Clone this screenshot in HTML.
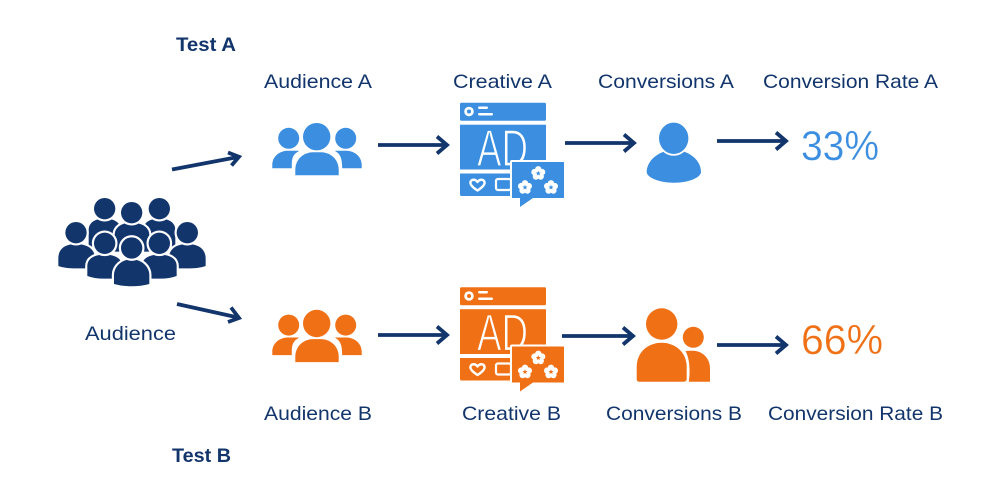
<!DOCTYPE html>
<html><head><meta charset="utf-8"><style>
html,body{margin:0;padding:0;background:#fff}
svg{display:block}
text{font-family:"Liberation Sans",sans-serif}
.l{font-size:19.5px;fill:#12356c}
.b{font-size:19.5px;font-weight:700;fill:#12356c}
.ar{fill:none;stroke:#12356c;stroke-width:3.8;stroke-linejoin:miter}
.ad{font-size:52px;stroke-width:1.3}
</style></head><body>
<svg width="1000" height="500" viewBox="0 0 1000 500" xmlns="http://www.w3.org/2000/svg">
<defs>
<g id="fl">
<circle cx="0" cy="-4" r="3.200" fill="#fff"/><circle cx="3.800" cy="-1.200" r="3.200" fill="#fff"/><circle cx="2.400" cy="3.200" r="3.200" fill="#fff"/><circle cx="-2.400" cy="3.200" r="3.200" fill="#fff"/><circle cx="-3.800" cy="-1.200" r="3.200" fill="#fff"/>
<circle r="2.500" fill="#fff"/>
</g>
<path id="star" d="M0 -2.600L.7 -.8L2.500 -.8L1.100 .4L1.600 2.200L0 1.200L-1.600 2.200L-1.100 .4L-2.500 -.8L-.7 -.8Z"/>
</defs>
<rect width="1000" height="500" fill="#fff"/>

<text class="b" x="176" y="51" textLength="60" lengthAdjust="spacingAndGlyphs">Test A</text>
<text class="b" x="172" y="462" textLength="59" lengthAdjust="spacingAndGlyphs">Test B</text>
<text class="l" x="264" y="88" textLength="108" lengthAdjust="spacingAndGlyphs">Audience A</text>
<text class="l" x="453" y="88" textLength="99" lengthAdjust="spacingAndGlyphs">Creative A</text>
<text class="l" x="598" y="88" textLength="136" lengthAdjust="spacingAndGlyphs">Conversions A</text>
<text class="l" x="763" y="88" textLength="175" lengthAdjust="spacingAndGlyphs">Conversion Rate A</text>
<text class="l" x="264" y="420" textLength="108" lengthAdjust="spacingAndGlyphs">Audience B</text>
<text class="l" x="462" y="420" textLength="99" lengthAdjust="spacingAndGlyphs">Creative B</text>
<text class="l" x="606" y="420" textLength="136" lengthAdjust="spacingAndGlyphs">Conversions B</text>
<text class="l" x="768" y="420" textLength="175" lengthAdjust="spacingAndGlyphs">Conversion Rate B</text>
<text class="l" x="85" y="340" textLength="91" lengthAdjust="spacingAndGlyphs">Audience</text>

<text x="801" y="160" font-size="42" fill="#3b8ee0" stroke="#fff" stroke-width=".3" textLength="78" lengthAdjust="spacingAndGlyphs">33%</text>
<text x="801" y="354" font-size="42" fill="#f07016" stroke="#fff" stroke-width=".3" textLength="82" lengthAdjust="spacingAndGlyphs">66%</text>

<!-- arrows -->
<path class="ar" d="M172 169.500L238 157M228 152.500L239 156.800L231.500 165.500"/>
<path class="ar" d="M177 304L238 317.500M231 307.500L239 318L228 322"/>
<path class="ar" d="M378 145H446M437 136.500L447 145L437 153.500"/>
<path class="ar" d="M565 143H633M624 134.500L634 143L624 151.500"/>
<path class="ar" d="M717 141H785M776 132.500L786 141L776 149.500"/>
<path class="ar" d="M378 335H446M437 326.500L447 335L437 343.500"/>
<path class="ar" d="M562 336H632M623 327.500L633 336L623 344.500"/>
<path class="ar" d="M717 345H785M776 336.500L786 345L776 353.500"/>

<!-- crowd -->
<g transform="translate(40 180) scale(.3333)" fill="#12356c" stroke="#fff" stroke-width="13" paint-order="stroke">
<path d="M146 200V150C146 128 165 116 194 116C223 116 242 128 242 150V200Z"/>
<path d="M310 200V150C310 128 329 116 358 116C387 116 406 128 406 150V200Z"/>
<circle cx="194" cy="86" r="32"/><circle cx="358" cy="86" r="32"/>
<path d="M224 215V165C224 142 245 128 275 128C305 128 328 142 328 165V215Z"/>
<circle cx="275" cy="98" r="32"/>
<path d="M55 258V235C55 207 75 192 108 192C141 192 165 207 165 235V265H120C95 266 72 264 55 258Z"/>
<path d="M387 265V235C387 207 409 192 442 192C475 192 497 207 497 235V258C480 264 457 266 432 265Z"/>
<circle cx="108" cy="158" r="32"/><circle cx="442" cy="158" r="32"/>
<path d="M142 288V258C142 236 163 224 194 224C225 224 246 236 246 258V296H190C172 296 156 293 142 288Z"/>
<path d="M306 296V258C306 236 327 224 358 224C389 224 410 236 410 258V288C396 293 380 296 362 296Z"/>
<circle cx="194" cy="190" r="32"/><circle cx="358" cy="190" r="32"/>
<path d="M222 312V285C222 260 245 238 275 238C305 238 328 260 328 285V312C295 321 255 321 222 312Z"/>
<circle cx="275" cy="204" r="32"/>
</g>

<!-- group A -->
<g fill="#3b8ee0">
<circle cx="316.700" cy="136.700" r="13.700"/>
<circle cx="288.700" cy="138.300" r="10.500"/><circle cx="345.700" cy="138.300" r="10.500"/>
<path d="M272.300 168.300V165C272.300 156 280 150.700 288 150.700H298C300 150.700 298 151.500 296 153C291 157 292 163 291.800 168.300Z"/>
<path d="M361.700 168.300V165C361.700 156 354 150.700 346 150.700H336C334 150.700 336 151.500 338 153C342 157 342 163 342.200 168.300Z"/>
<path d="M295.300 175.300V170C295.300 159 304 152.300 313 152.300H321C330 152.300 338.700 159 338.700 170V175.300Z"/>
</g>
<!-- group B -->
<g fill="#f07016" transform="translate(0 186.800)">
<circle cx="316.700" cy="136.700" r="13.700"/>
<circle cx="288.700" cy="138.300" r="10.500"/><circle cx="345.700" cy="138.300" r="10.500"/>
<path d="M272.300 168.300V165C272.300 156 280 150.700 288 150.700H298C300 150.700 298 151.500 296 153C291 157 292 163 291.800 168.300Z"/>
<path d="M361.700 168.300V165C361.700 156 354 150.700 346 150.700H336C334 150.700 336 151.500 338 153C342 157 342 163 342.200 168.300Z"/>
<path d="M295.300 175.300V170C295.300 159 304 152.300 313 152.300H321C330 152.300 338.700 159 338.700 170V175.300Z"/>
</g>

<!-- ad A -->
<g>
<rect x="460" y="102.700" width="86" height="18" rx="1.500" fill="#3b8ee0"/>
<circle cx="469" cy="111.500" r="4.800" fill="#fff"/><circle cx="469" cy="111.500" r="2" fill="#3b8ee0"/>
<rect x="478" y="106.500" width="10" height="2.500" rx="1.200" fill="#fff"/>
<rect x="478" y="113" width="15" height="2.500" rx="1.200" fill="#fff"/>
<rect x="460" y="124.700" width="86" height="44.800" fill="#3b8ee0"/>
<path d="M460 173.500H546V196H461.500A1.500 1.500 0 0 1 460 194.500Z" fill="#3b8ee0"/>
<text class="ad" x="477" y="166" fill="#fff" stroke="#3b8ee0" textLength="51" lengthAdjust="spacingAndGlyphs">AD</text>
<path d="M477.500 190.500C472 187 470 184 470.500 182C471.500 179 475.500 179 477.500 182C479.500 179 483.500 179 484.500 182C485 184 483 187 477.500 190.500Z" fill="none" stroke="#fff" stroke-width="2.400" stroke-linejoin="round"/>
<rect x="496" y="179" width="15" height="11" rx="2" fill="none" stroke="#fff" stroke-width="2.200"/>
<path d="M512 162H564V198H533L520 207V198H512Z" fill="#3b8ee0" stroke="#fff" stroke-width="4" paint-order="stroke" stroke-linejoin="round"/>
<use href="#fl" x="538.300" y="173.300"/><use href="#fl" x="525" y="187.300"/><use href="#fl" x="551" y="187.300"/>
<g fill="#3b8ee0"><use href="#star" x="538.300" y="173.300"/><use href="#star" x="525" y="187.300"/><use href="#star" x="551" y="187.300"/></g>
</g>

<!-- ad B -->
<g transform="translate(0 184.500)">
<rect x="460" y="102.700" width="86" height="18" rx="1.500" fill="#f07016"/>
<circle cx="469" cy="111.500" r="4.800" fill="#fff"/><circle cx="469" cy="111.500" r="2" fill="#f07016"/>
<rect x="478" y="106.500" width="10" height="2.500" rx="1.200" fill="#fff"/>
<rect x="478" y="113" width="15" height="2.500" rx="1.200" fill="#fff"/>
<rect x="460" y="124.700" width="86" height="44.800" fill="#f07016"/>
<path d="M460 173.500H546V196H461.500A1.500 1.500 0 0 1 460 194.500Z" fill="#f07016"/>
<text class="ad" x="477" y="166" fill="#fff" stroke="#f07016" textLength="51" lengthAdjust="spacingAndGlyphs">AD</text>
<path d="M477.500 190.500C472 187 470 184 470.500 182C471.500 179 475.500 179 477.500 182C479.500 179 483.500 179 484.500 182C485 184 483 187 477.500 190.500Z" fill="none" stroke="#fff" stroke-width="2.400" stroke-linejoin="round"/>
<rect x="496" y="179" width="15" height="11" rx="2" fill="none" stroke="#fff" stroke-width="2.200"/>
<path d="M512 162H564V198H533L520 207V198H512Z" fill="#f07016" stroke="#fff" stroke-width="4" paint-order="stroke" stroke-linejoin="round"/>
<use href="#fl" x="538.300" y="173.300"/><use href="#fl" x="525" y="187.300"/><use href="#fl" x="551" y="187.300"/>
<g fill="#f07016"><use href="#star" x="538.300" y="173.300"/><use href="#star" x="525" y="187.300"/><use href="#star" x="551" y="187.300"/></g>
</g>

<!-- person A -->
<path d="M646.700 172C647 162 655 155 663 152C668 150 680 150 685 152C693 155 701 162 701 172C701 177 690 182.700 674 182.700C658 182.700 646.700 177 646.700 172Z" fill="#3b8ee0"/>
<ellipse cx="673.700" cy="138.300" rx="14.700" ry="15.700" fill="#3b8ee0" stroke="#fff" stroke-width="3.400" paint-order="stroke"/>

<!-- person B -->
<circle cx="661.700" cy="324" r="15.700" fill="#f07016"/>
<path d="M636.700 367C636.700 352 648 342.700 661.700 342.700C675 342.700 686.700 352 686.700 367V379C686.700 381 685 381.700 684 381.700H639C637.500 381.700 636.700 380.500 636.700 379Z" fill="#f07016"/>
<circle cx="693.300" cy="337.300" r="10.500" fill="#f07016"/>
<path d="M685.500 351C687 350.700 690 350.700 693 350.700C702 350.700 710 358 710 368V381.700H688.800C690 375 690.500 360 685.500 351Z" fill="#f07016"/>
</svg>
</body></html>
